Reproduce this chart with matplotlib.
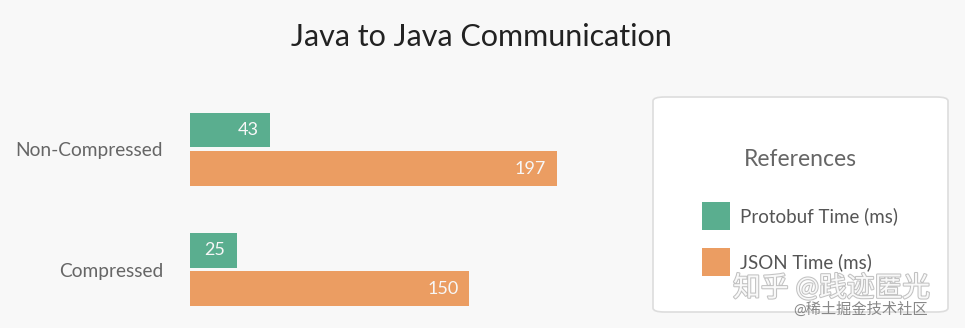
import matplotlib.pyplot as plt
from matplotlib.patches import FancyBboxPatch, Rectangle
import matplotlib.patheffects as pe

plt.rcParams['font.family'] = ['Lato', 'Noto Sans CJK SC', 'DejaVu Sans']

categories = ['Non-Compressed', 'Compressed']
protobuf_ms = [43, 25]
json_ms = [197, 150]
series_names = ['Protobuf Time (ms)', 'JSON Time (ms)']
series_colors = ['#5aae8f', '#eb9d62']

W, H = 965, 328
fig = plt.figure(figsize=(W / 100, H / 100), dpi=100)
fig.patch.set_facecolor('#f8f8f8')

def px_box(x0, y0, x1, y1):
    # pixel box (top-left origin) -> figure fraction rect
    return [x0 / W, 1 - y1 / H, (x1 - x0) / W, (y1 - y0) / H]

ax = fig.add_axes(px_box(190, 100, 590, 320))
ax.set_facecolor('none')

pos = list(range(len(categories)))
bh = 0.29
off = 0.16
ax.barh([p - off for p in pos], protobuf_ms, height=bh, color=series_colors[0])
ax.barh([p + off for p in pos], json_ms, height=bh, color=series_colors[1])

ax.set_xlim(0, 400 / 1.863)
ax.set_ylim(1.42, -0.41)
ax.set_yticks(pos)
ax.set_yticklabels(categories, fontsize=13.8, color='#666666')
ax.tick_params(axis='y', length=0, pad=19.5)
ax.set_xticks([])
for s in ax.spines.values():
    s.set_visible(False)

# value labels just inside the bar ends
for vals, d in ((protobuf_ms, -off), (json_ms, off)):
    for p, v in zip(pos, vals):
        ax.annotate(str(v), (v, p + d), xytext=(-8, 0), textcoords='offset points',
                    ha='right', va='center', color='#f7f7f7', fontsize=13)

fig.text(481 / W, 1 - 37 / H, 'Java to Java Communication', ha='center', va='center',
         fontsize=22, color='#222222')

# legend panel
lx0, ly0, lx1, ly1 = 653, 97, 948, 312
panel = FancyBboxPatch((lx0 / W, 1 - ly1 / H), (lx1 - lx0) / W, (ly1 - ly0) / H,
                       boxstyle='round,pad=0,rounding_size=0.012', transform=fig.transFigure,
                       facecolor='white', edgecolor='#dddddd', linewidth=1.2)
fig.add_artist(panel)
fig.text(800 / W, 1 - 159 / H, 'References', ha='center', va='center',
         fontsize=16.5, color='#666666')
for i, (name, col) in enumerate(zip(series_names, series_colors)):
    yc = 216 + i * 46
    fig.add_artist(Rectangle((702 / W, 1 - (yc + 14) / H), 28 / W, 28 / H,
                             transform=fig.transFigure, facecolor=col, edgecolor='none'))
    fig.text(740 / W, 1 - yc / H, name, ha='left', va='center', fontsize=13.5, color='#555555')

# site watermark
fig.text(733 / W, 1 - 288 / H, '知乎 @践迹匿光', ha='left', va='center', fontsize=20,
         color='white', alpha=0.9,
         path_effects=[pe.withStroke(linewidth=1.5, foreground='#bbbbbb')])
fig.text(793 / W, 1 - 309 / H, '@稀土掘金技术社区', ha='left', va='center', fontsize=11,
         color='#888888')

fig.savefig('out.png', dpi=100, facecolor=fig.get_facecolor())
